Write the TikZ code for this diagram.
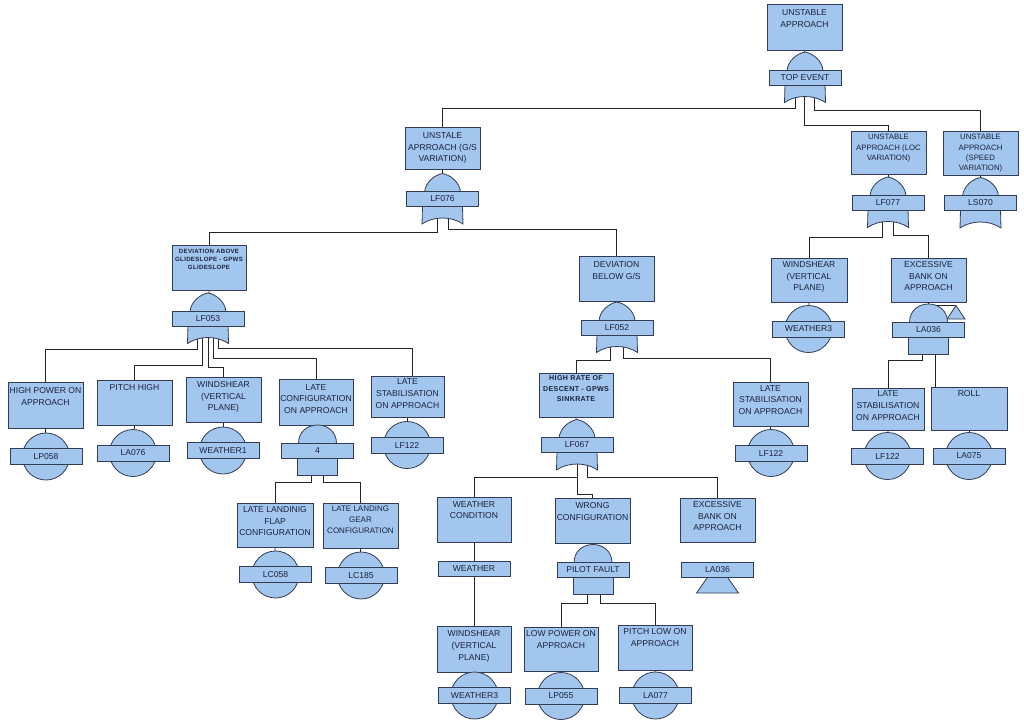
\documentclass[tikz,border=0pt]{standalone}
\usepackage{fontspec}
\setmainfont{Liberation Sans}
\newfontfamily\spacedf[LetterSpace=5]{Liberation Sans}
\usetikzlibrary{calc}
\pgfdeclarelayer{bg}
\pgfsetlayers{bg,main}
\definecolor{fb}{RGB}{163,198,238}
\definecolor{eg}{RGB}{50,60,82}
\definecolor{tx}{RGB}{25,35,62}
\definecolor{ln}{RGB}{35,35,40}
\newcommand\mainf{\fontsize{8.6}{11.7}\selectfont}
\newcommand\smallf{\fontsize{7.8}{10.3}\selectfont}
\newcommand\gearf{\fontsize{8}{10.7}\selectfont}
\newcommand\tinyb{\spacedf\bfseries\fontsize{6.1}{8.3}\selectfont}
\newcommand\rateb{\spacedf\bfseries\fontsize{7.1}{10.5}\selectfont}
\tikzset{
  evbox/.style={draw=eg, fill=fb, line width=0.8, inner sep=0},
  evtxt/.style={text=tx, align=center, inner sep=0, anchor=north},
  lab/.style={draw=eg, fill=fb, line width=0.8, inner sep=0, minimum width=72, minimum height=16, text=tx, font=\mainf},
  shp/.style={draw=eg, fill=fb, line width=0.8},
  cn/.style={draw=ln, line width=0.8}
}
% box: name, cx, cy, w, h, font, top pad, text
\newcommand\BOX[8]{%
  \node[evbox, minimum width=#4, minimum height=#5] (#1) at (#2,#3) {};
  \node[evtxt, font=#6] (#1t) at ([yshift=-#7]#1.north) {#8};}
% OR gate: name, cx, cy, text
\newcommand\ORG[4]{%
  \path[shp] (#2-18,#3-7) .. controls (#2-17,#3-17) and (#2-8,#3-24) .. (#2,#3-25.5) .. controls (#2+8,#3-24) and (#2+17,#3-17) .. (#2+18,#3-7) -- cycle;
  \path[shp] (#2-20,#3+7) -- (#2-20.5,#3+25) .. controls (#2-9,#3+17) and (#2+9,#3+17) .. (#2+20.5,#3+25) -- (#2+20,#3+7) -- cycle;
  \node[lab, minimum height=15] (#1) at (#2,#3) {#4};}
% AND gate
\newcommand\ANDG[4]{%
  \path[shp] (#2-19,#3-7) .. controls (#2-19,#3-19) and (#2-10,#3-25.5) .. (#2,#3-25.5) .. controls (#2+10,#3-25.5) and (#2+19,#3-19) .. (#2+19,#3-7) -- cycle;
  \path[shp] (#2-20,#3+7) rectangle (#2+20,#3+24.5);
  \node[lab, minimum height=15] (#1) at (#2,#3) {#4};}
% basic event
\newcommand\BEV[4]{%
  \path[shp] (#2,#3) circle[radius=23.5pt];
  \node[lab] (#1) at (#2,#3) {#4};}
% transfer
\newcommand\TRF[4]{%
  \path[shp] (#2,#3-7) -- (#2-21,#3+23) -- (#2+21,#3+23) -- cycle;
  \node[lab, minimum height=15] (#1) at (#2,#3) {#4};}
% connector: gate, exit dx, horizontal y, target anchor
\newcommand\CN[4]{\draw[cn] ([xshift=#2]#1.center) |- (#4 |- 0,#3) -- (#4);}

\begin{document}
\begin{tikzpicture}[x=1pt,y=-1pt]
\useasboundingbox (0,0) rectangle (1024,726);

% ---- top
\BOX{B0}{804.5}{27}{75}{46}{\mainf}{6}{UNSTABLE\\APPROACH}
\ORG{G0}{805}{77.5}{TOP EVENT}

\BOX{B1}{442.5}{148}{75}{42}{\mainf}{5.5}{UNSTALE\\APRROACH (G/S\\VARIATION)}
\ORG{G1}{442.5}{199}{LF076}
\BOX{B2}{888.5}{152.5}{75}{43}{\smallf}{3.5}{UNSTABLE\\APPROACH (LOC\\VARIATION)}
\ORG{G2}{888}{202.5}{LF077}
\BOX{B3}{980.5}{153}{75}{44}{\smallf}{3.5}{UNSTABLE\\APPROACH\\(SPEED\\VARIATION)}
\ORG{G3}{980.5}{203}{LS070}

% ---- G/S branch
\BOX{B4}{209}{267.5}{74}{45}{\tinyb}{4}{DEVIATION ABOVE\\GLIDESLOPE - GPWS\\GLIDESLOPE}
\ORG{G4}{208}{318.5}{LF053}
\BOX{B5}{616.5}{278.5}{75}{45}{\mainf}{5.5}{DEVIATION\\BELOW G/S}
\ORG{G6}{617}{327.5}{LF052}

\BOX{C1}{45.5}{405}{75}{46}{\mainf}{6}{HIGH POWER ON\\APPROACH}
\BEV{E1}{46}{456.5}{LP058}
\BOX{C2}{134.5}{402.5}{75}{45}{\mainf}{5}{PITCH HIGH}
\BEV{E2}{133}{453}{LA076}
\BOX{C3}{223.5}{399.5}{75}{45}{\mainf}{4.5}{WINDSHEAR\\(VERTICAL\\PLANE)}
\BEV{E3}{223}{450.5}{WEATHER1}
\BOX{C4}{316}{402}{74}{46}{\mainf}{5.5}{LATE\\CONFIGURATION\\ON APPROACH}
\ANDG{G5}{317.5}{450.5}{4}
\BOX{C5}{407.5}{396.5}{73}{41}{\mainf}{3}{LATE\\STABILISATION\\ON APPROACH}
\BEV{E5}{407}{445}{LF122}

\BOX{C6}{275}{525}{76}{44}{\mainf}{3.5}{LATE LANDINIG\\FLAP\\CONFIGURATION}
\BEV{E6}{275.5}{574.5}{LC058}
\BOX{C7}{360.5}{525.5}{75}{45}{\gearf}{3.5}{LATE LANDING\\GEAR\\CONFIGURATION}
\BEV{E7}{361}{575.5}{LC185}

\BOX{C8}{576}{395}{74}{44}{\rateb}{3}{HIGH RATE OF\\DESCENT - GPWS\\SINKRATE}
\ORG{G7}{577}{445}{LF067}
\BOX{C9}{770.5}{404}{75}{44}{\mainf}{3.5}{LATE\\STABILISATION\\ON APPROACH}
\BEV{E9}{771}{453}{LF122}

\BOX{C10}{474}{519.5}{74}{45}{\mainf}{4.5}{WEATHER\\CONDITION}
\node[lab, minimum height=15] (L1) at (474,569) {WEATHER};
\BOX{C11}{474}{649}{74}{46}{\mainf}{5}{WINDSHEAR\\(VERTICAL\\PLANE)}
\BEV{E11}{474.5}{695.5}{WEATHER3}
\BOX{C12}{592.5}{520.5}{75}{45}{\mainf}{4.5}{WRONG\\CONFIGURATION}
\ANDG{G8}{593}{570}{PILOT FAULT}
\BOX{C13}{561}{649}{74}{44}{\mainf}{4}{LOW POWER ON\\APPROACH}
\BEV{E13}{561}{696}{LP055}
\BOX{C14}{655}{647.5}{74}{45}{\mainf}{4}{PITCH LOW ON\\APPROACH}
\BEV{E14}{655.5}{695.5}{LA077}
\BOX{C15}{717.5}{520}{75}{44}{\mainf}{3.5}{EXCESSIVE\\BANK ON\\APPROACH}
\TRF{T15}{717.5}{570}{LA036}

% ---- LOC branch
\BOX{C16}{809}{280}{76}{44}{\mainf}{3.5}{WINDSHEAR\\(VERTICAL\\PLANE)}
\BEV{E16}{808.5}{329}{WEATHER3}
\BOX{C17}{928.5}{280}{75}{44}{\mainf}{3.5}{EXCESSIVE\\BANK ON\\APPROACH}
\draw[cn] (930,305.5) -- (956,305.5);
\path[shp] (956,305.5) -- (947,319) -- (965,319) -- cycle;
\ANDG{G9}{928.5}{329.5}{LA036}
\BOX{C18}{888}{409.5}{72}{42}{\mainf}{2.5}{LATE\\STABILISATION\\ON APPROACH}
\BEV{E18}{887.5}{456}{LF122}
\BOX{C19}{969}{408.5}{76}{43}{\mainf}{3.5}{ROLL}
\BEV{E19}{969}{456}{LA075}

% ---- connectors
\begin{pgfonlayer}{bg}
\fill[white] (0,0) rectangle (1024,726);
\draw[cn] (B0.south) -- (G0.center);
\CN{G0}{-10}{108}{B1.north}
\CN{G0}{-1}{125}{B2.north}
\CN{G0}{9}{110}{B3.north}
\draw[cn] (B1.south) -- (G1.center);
\draw[cn] (B2.south) -- (G2.center);
\draw[cn] (B3.south) -- (G3.center);
\CN{G1}{-5.5}{232}{B4.north}
\CN{G1}{5.5}{229}{B5.north}
\CN{G2}{-6}{237}{C16.north}
\CN{G2}{5}{235}{C17.north}
\draw[cn] (B4.south) -- (G4.center);
\coordinate (c5in) at ([xshift=4.5]C5.north);
\CN{G4}{-11}{349}{C1.north}
\CN{G4}{-6}{365}{C2.north}
\CN{G4}{0}{367}{C3.north}
\CN{G4}{5}{358}{C4.north}
\CN{G4}{10}{348}{c5in}
\draw[cn] (C1.south) -- (E1.center);
\draw[cn] (C2.south) -- (E2.center);
\draw[cn] (C3.south) -- (E3.center);
\draw[cn] (C4.south) -- (G5.center);
\draw[cn] (C5.south) -- (E5.center);
\CN{G5}{-6.5}{482}{C6.north}
\CN{G5}{5.5}{482}{C7.north}
\draw[cn] (C6.south) -- (E6.center);
\draw[cn] (C7.south) -- (E7.center);
\draw[cn] (B5.south) -- (G6.center);
\CN{G6}{-7}{360}{C8.north}
\CN{G6}{6}{358}{C9.north}
\draw[cn] (C8.south) -- (G7.center);
\draw[cn] (C9.south) -- (E9.center);
\CN{G7}{0}{477}{C10.north}
\CN{G7}{0}{494}{C12.north}
\CN{G7}{10}{477}{C15.north}
\draw[cn] (C10.south) -- (L1.north);
\draw[cn] (L1.south) -- (C11.north);
\draw[cn] (C11.south) -- (E11.center);
\draw[cn] (C12.south) -- (G8.center);
\CN{G8}{-6}{603}{C13.north}
\CN{G8}{7}{603}{C14.north}
\draw[cn] (C13.south) -- (E13.center);
\draw[cn] (C14.south) -- (E14.center);
\draw[cn] (C16.south) -- (E16.center);
\draw[cn] (C17.south) -- (G9.center);
\CN{G9}{-6.5}{360}{C18.north}
\coordinate (g9r) at ([xshift=6.5]G9.center);
\draw[cn] (g9r) -- (g9r |- C19.north);
\draw[cn] (C18.south) -- (E18.center);
\draw[cn] (C19.south) -- (E19.center);
\end{pgfonlayer}
\end{tikzpicture}
\end{document}
